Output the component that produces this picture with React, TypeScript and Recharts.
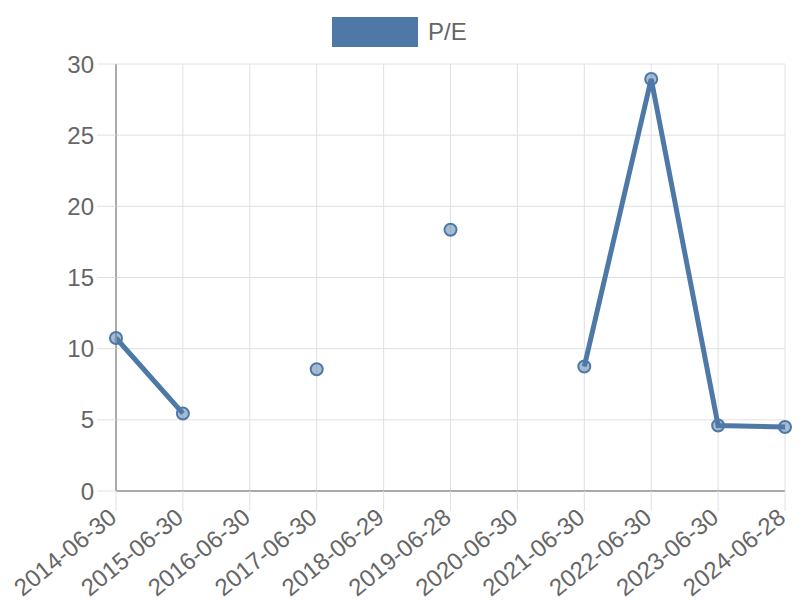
import React from "react";
import { LineChart, Line, XAxis, YAxis, CartesianGrid } from "recharts";

const dates = [
  "2014-06-30",
  "2015-06-30",
  "2016-06-30",
  "2017-06-30",
  "2018-06-29",
  "2019-06-28",
  "2020-06-30",
  "2021-06-30",
  "2022-06-30",
  "2023-06-30",
  "2024-06-28",
];
const peValues: (number | null)[] = [10.75, 5.45, null, 8.55, null, 18.35, null, 8.75, 28.95, 4.6, 4.5];
const yTicks = [0, 5, 10, 15, 20, 25, 30];

const data = dates.map((d, i) => ({ date: d, pe: peValues[i] }));

const BLUE = "#4e79a7";
const FONT = '"Liberation Sans", Arial, sans-serif';

const DateTick = (props: any) => {
  const { x, y, payload } = props;
  return (
    <g transform={`translate(${x + 2},${y + 9})`}>
      <text
        transform="rotate(-39)"
        textAnchor="end"
        fill="#666"
        fontSize={24}
        fontFamily={FONT}
      >
        {payload.value}
      </text>
    </g>
  );
};

export default function App() {
  return (
    <div style={{ position: "absolute", left: 0, top: 0, width: 800, height: 600, background: "#fff", fontFamily: FONT }}>
      <div
        style={{
          position: "absolute",
          top: 17,
          left: 332,
          display: "flex",
          alignItems: "center",
          height: 30,
        }}
      >
        <div style={{ width: 86, height: 30, background: BLUE }} />
        <span style={{ marginLeft: 10, fontSize: 24, color: "#666" }}>P/E</span>
      </div>
      <LineChart width={800} height={600} data={data} margin={{ top: 64, right: 15, left: 0, bottom: 0 }}>
        <CartesianGrid stroke="#e0e0e0" strokeWidth={1} />
        <XAxis
          dataKey="date"
          interval={0}
          height={109}
          tickSize={20}
          tickMargin={0}
          axisLine={{ stroke: "#aaa", strokeWidth: 2 }}
          tickLine={{ stroke: "#e0e0e0" }}
          tick={<DateTick />}
        />
        <YAxis
          width={116}
          domain={[0, 30]}
          ticks={yTicks}
          interval={0}
          tickSize={19}
          tickMargin={3}
          axisLine={{ stroke: "#aaa", strokeWidth: 2 }}
          tickLine={{ stroke: "#e0e0e0" }}
          tick={{ fill: "#666", fontSize: 24, fontFamily: FONT }}
        />
        <Line
          dataKey="pe"
          type="linear"
          stroke={BLUE}
          strokeWidth={5}
          dot={{ r: 6, fill: "rgba(78,121,167,0.5)", stroke: BLUE, strokeWidth: 2 }}
          activeDot={false}
          isAnimationActive={false}
        />
      </LineChart>
    </div>
  );
}
